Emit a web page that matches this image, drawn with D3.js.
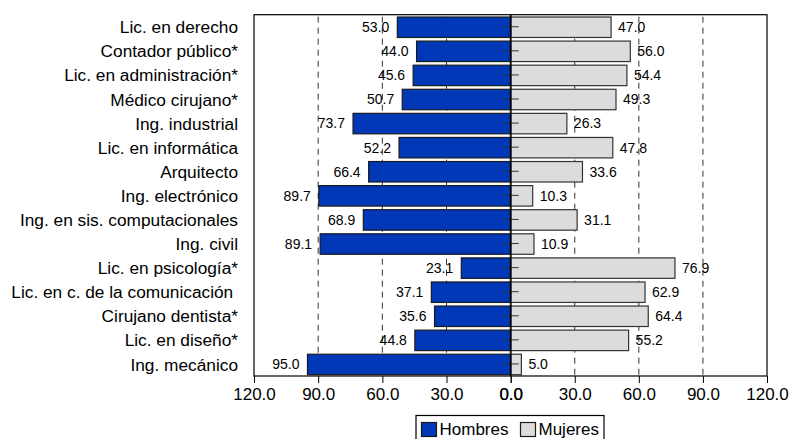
<!DOCTYPE html>
<html><head><meta charset="utf-8">
<script src="https://cdn.jsdelivr.net/npm/d3@7"></script>
<style>body{margin:0;background:#fff}svg{display:block}text{font-family:"Liberation Sans",Arial,sans-serif;fill:#000}</style>
</head><body><svg id="c" width="790" height="439"></svg>
<script>
const categories = ["Lic. en derecho","Contador público*","Lic. en administración*","Médico cirujano*","Ing. industrial","Lic. en informática","Arquitecto","Ing. electrónico","Ing. en sis. computacionales","Ing. civil","Lic. en psicología*","Lic. en c. de la comunicación\u00a0","Cirujano dentista*","Lic. en diseño*","Ing. mecánico"];
const hombres = [53.0,44.0,45.6,50.7,73.7,52.2,66.4,89.7,68.9,89.1,23.1,37.1,35.6,44.8,95.0];
const mujeres = [47.0,56.0,54.4,49.3,26.3,47.8,33.6,10.3,31.1,10.9,76.9,62.9,64.4,55.2,5.0];
const tickValues = [0,30,60,90,120];
const seriesNames = ["Hombres","Mujeres"];
const colors = ["#0038b8","#dcdcdc"];

const svg = d3.select("#c");
const L = 254, R = 767, C = 510.7, T = 14.7, B = 376;
const xl = d3.scaleLinear().domain([120,0]).range([L,C]);
const xr = d3.scaleLinear().domain([0,120]).range([C,R]);
const y = d3.scaleBand().domain(categories).range([T,B]).paddingInner(0.15).paddingOuter(0.075);

svg.append("rect").attr("x",L).attr("y",T).attr("width",R-L).attr("height",B-T).attr("fill","#fff");

const grid = svg.append("g");
tickValues.filter(v=>v>0&&v<120).forEach(v=>{
  [xl(v),xr(v)].forEach(x=>{
    grid.append("line").attr("x1",x).attr("x2",x).attr("y1",T+2).attr("y2",B)
      .attr("stroke","#333").attr("stroke-width",1).attr("stroke-dasharray","6,5");
  });
});

svg.append("g").selectAll("rect").data(categories).join("rect")
  .attr("x",(d,i)=>xl(hombres[i])).attr("y",d=>y(d)+0.5)
  .attr("width",(d,i)=>C-xl(hombres[i])).attr("height",y.bandwidth())
  .attr("fill",colors[0]).attr("stroke","#1a1a1a").attr("stroke-width",1.2);
svg.append("g").selectAll("rect").data(categories).join("rect")
  .attr("x",C).attr("y",d=>y(d)+0.5)
  .attr("width",(d,i)=>xr(mujeres[i])-C).attr("height",y.bandwidth())
  .attr("fill",colors[1]).attr("stroke","#333").attr("stroke-width",1.2);

svg.append("g").selectAll("text").data(categories).join("text")
  .attr("x",(d,i)=>xl(hombres[i])-8).attr("y",d=>y(d)+y.bandwidth()/2+0.5)
  .attr("dy","0.35em").attr("text-anchor","end").attr("font-size",14)
  .text((d,i)=>hombres[i].toFixed(1));
svg.append("g").selectAll("text").data(categories).join("text")
  .attr("x",(d,i)=>xr(mujeres[i])+7).attr("y",d=>y(d)+y.bandwidth()/2+0.5)
  .attr("dy","0.35em").attr("text-anchor","start").attr("font-size",14)
  .text((d,i)=>mujeres[i].toFixed(1));

const ca = svg.append("g").attr("transform",`translate(${C},0)`)
  .call(d3.axisLeft(y).tickSize(8).tickFormat(""));
ca.select(".domain").remove();
ca.selectAll(".tick line").attr("x2",8).attr("x1",-8).attr("stroke","#333");
svg.append("line").attr("x1",C).attr("x2",C).attr("y1",T).attr("y2",B).attr("stroke","#000").attr("stroke-width",1.8);

svg.append("rect").attr("x",L).attr("y",T).attr("width",R-L).attr("height",B-T)
  .attr("fill","none").attr("stroke","#000").attr("stroke-width",1.2);

svg.append("g").selectAll("text").data(categories).join("text")
  .attr("x",238).attr("y",d=>y(d)+y.bandwidth()/2+0.5).attr("dy","0.35em")
  .attr("text-anchor","end").attr("font-size",17.3).style("white-space","pre")
  .text(d=>d);

const fmt = d3.format(".1f");
function bottom(scale){
  const g = svg.append("g").attr("transform",`translate(0,${B})`)
    .call(d3.axisBottom(scale).tickValues(tickValues).tickSize(7).tickPadding(5).tickFormat(fmt));
  g.select(".domain").remove();
  g.selectAll(".tick line").attr("stroke","#000");
  g.selectAll(".tick text").attr("font-size",17).attr("fill","#000");
}
bottom(xl); bottom(xr);

const lg = svg.append("g");
lg.append("rect").attr("x",416).attr("y",415.5).attr("width",188).attr("height",28).attr("fill","#fff").attr("stroke","#000").attr("stroke-width",1.2);
const lx = [421.5, 520.5];
seriesNames.forEach((n,i)=>{
  lg.append("rect").attr("x",lx[i]).attr("y",422.5).attr("width",15).attr("height",14)
    .attr("fill",colors[i]).attr("stroke","#1a1a1a").attr("stroke-width",1.2);
  lg.append("text").attr("x",lx[i]+18).attr("y",435).attr("font-size",17).text(n);
});
</script></body></html>
